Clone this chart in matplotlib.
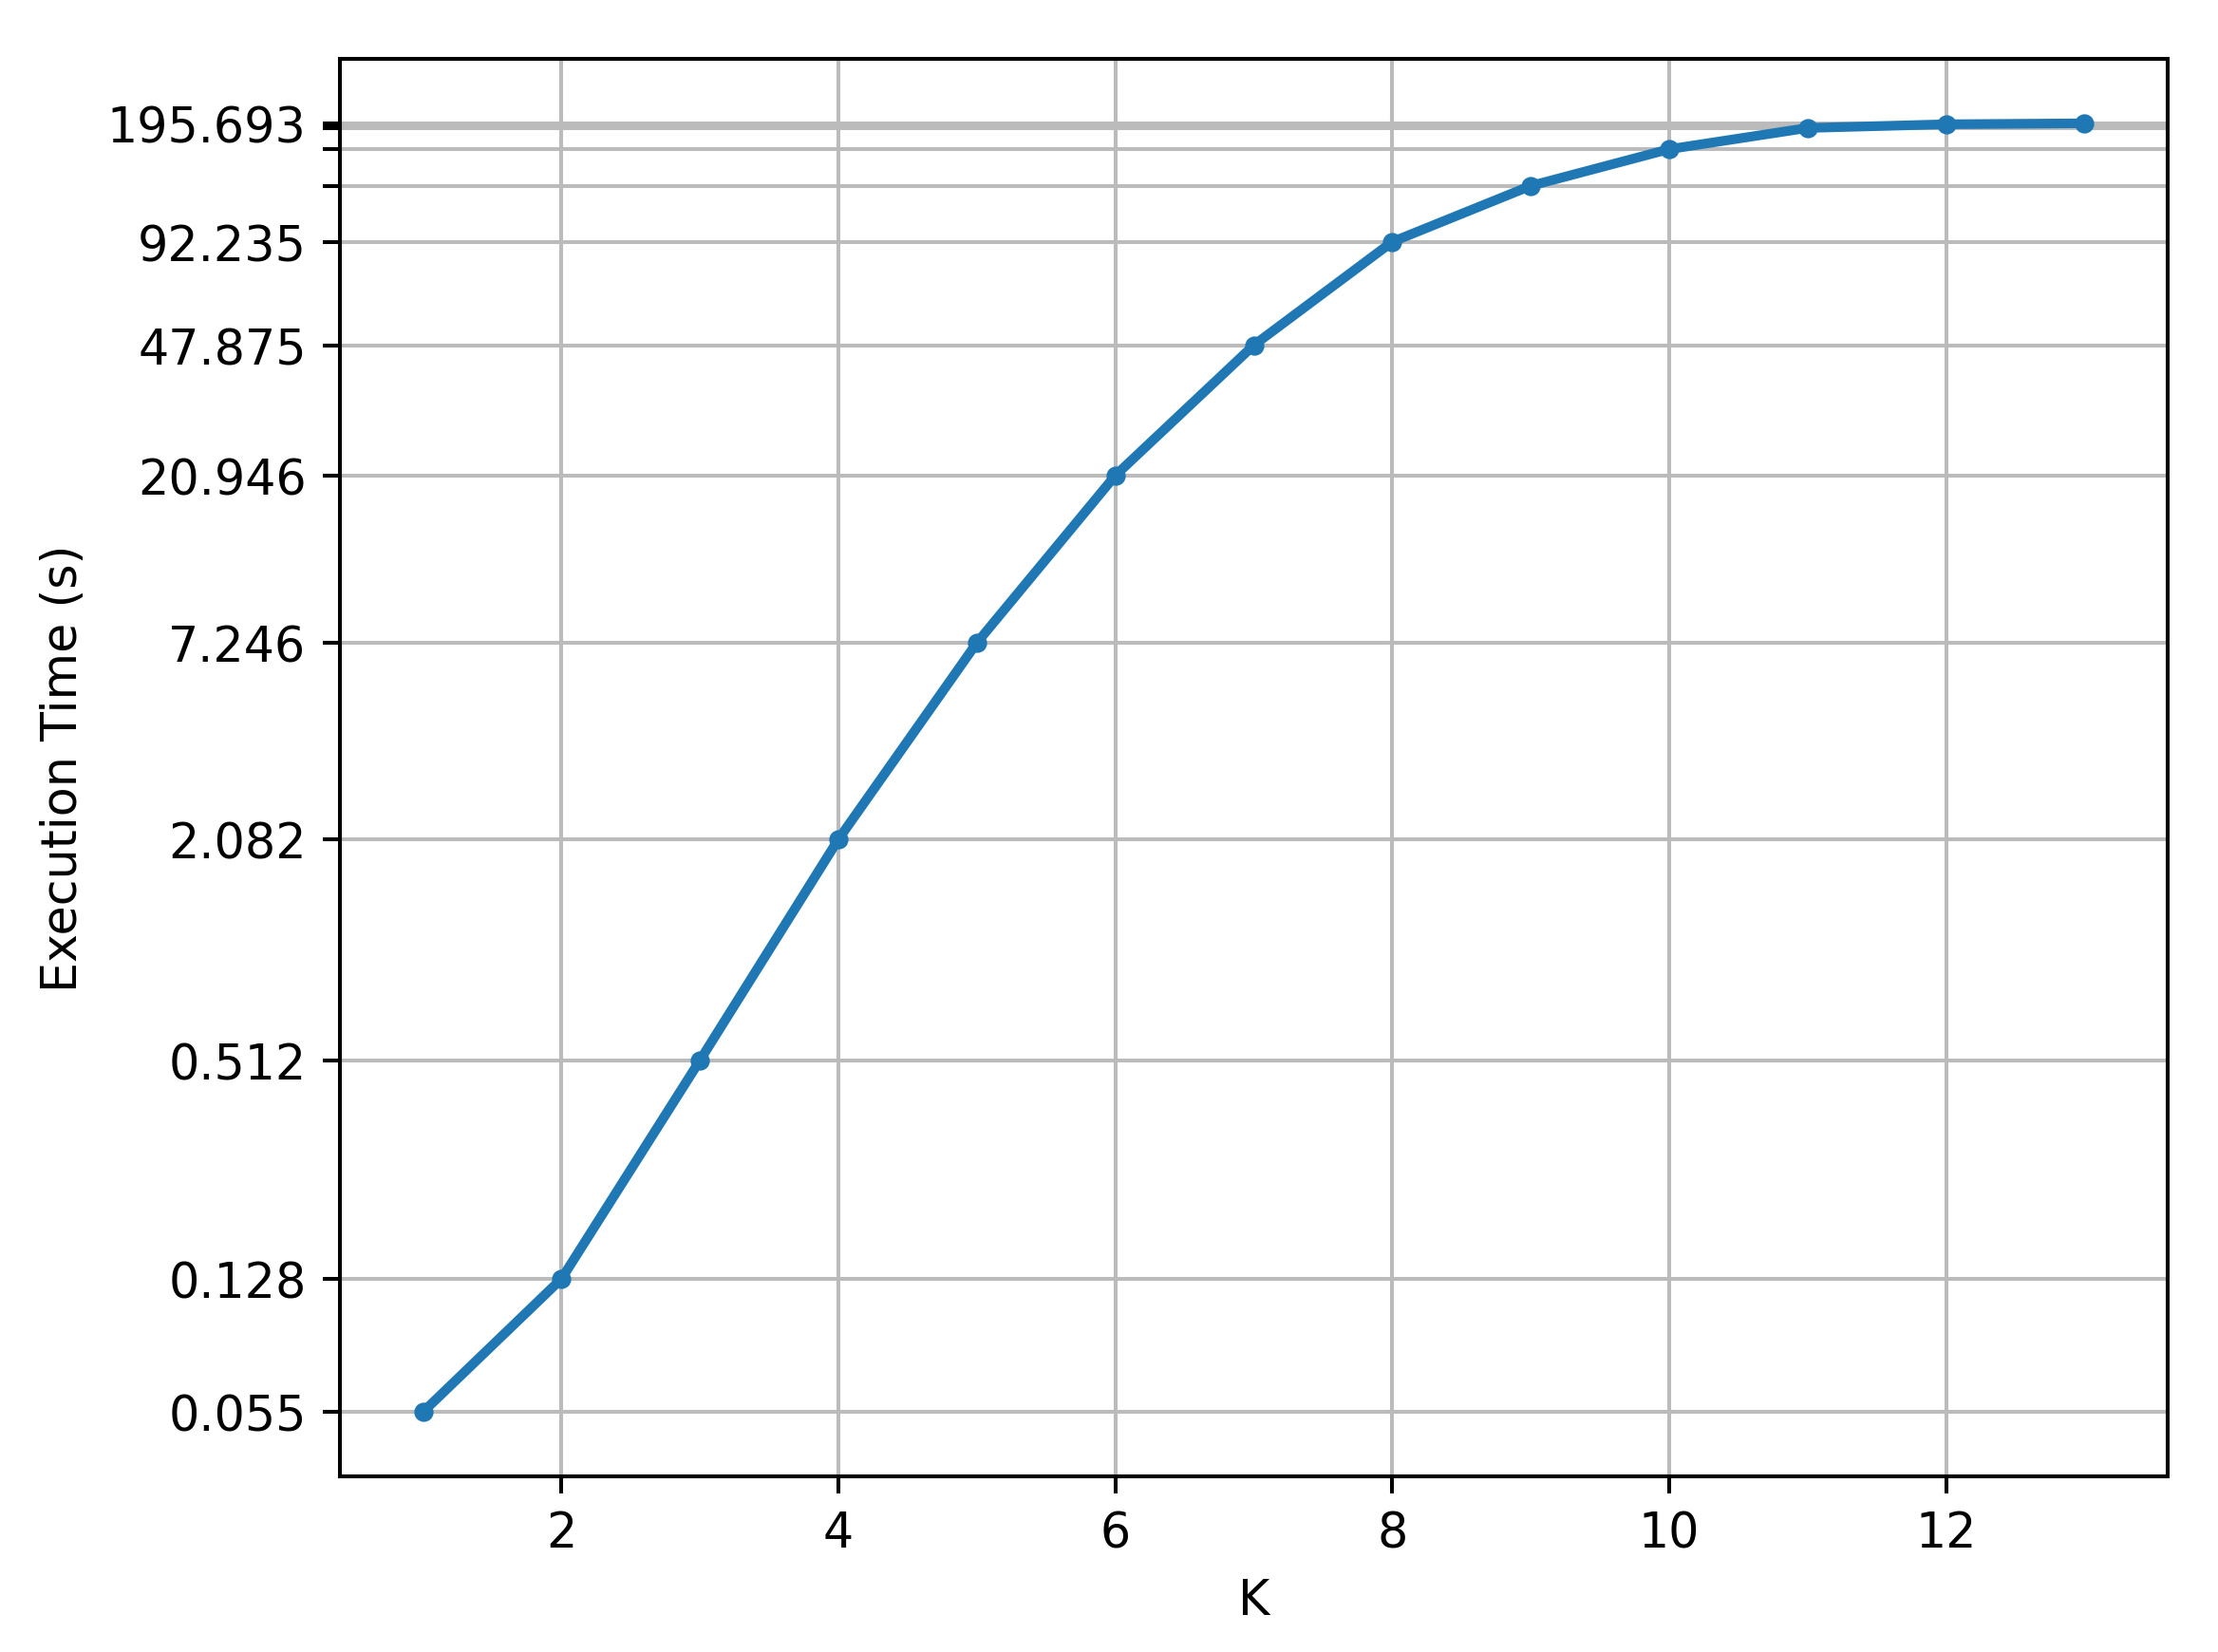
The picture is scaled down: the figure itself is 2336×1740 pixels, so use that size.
import matplotlib.pyplot as plt
import numpy as np

k_values = [1, 2, 3, 4, 5, 6, 7, 8, 9, 10, 11, 12, 13]
exec_time = [0.055, 0.128, 0.512, 2.082, 7.246, 20.946, 47.875, 92.235,
             131.6, 166.1, 190.0, 194.5, 195.693]
# tick labels shown on the y axis (crowded ones near the top left blank)
ytick_labels = ['0.055', '0.128', '0.512', '2.082', '7.246', '20.946', '47.875',
                '92.235', '', '', '', '', '195.693']

fig = plt.figure(figsize=(2336 / 365, 1741 / 365), dpi=365)
ax = fig.add_axes([0.1533, 0.1063, 0.9773 - 0.1533, 0.9638 - 0.1063])

ax.plot(k_values, exec_time, '-o', color='#1f77b4', linewidth=2, markersize=3)
ax.set_yscale('log')
ax.set_yticks(exec_time)
ax.set_yticklabels(ytick_labels)
ax.minorticks_off()
ax.set_xticks([2, 4, 6, 8, 10, 12])
ax.grid(True, color='#bbbbbb', linewidth=0.8)
ax.set_axisbelow(True)

ax.set_xlabel('K')
ax.set_ylabel('Execution Time (s)')

fig.savefig('out.png', dpi=365)
